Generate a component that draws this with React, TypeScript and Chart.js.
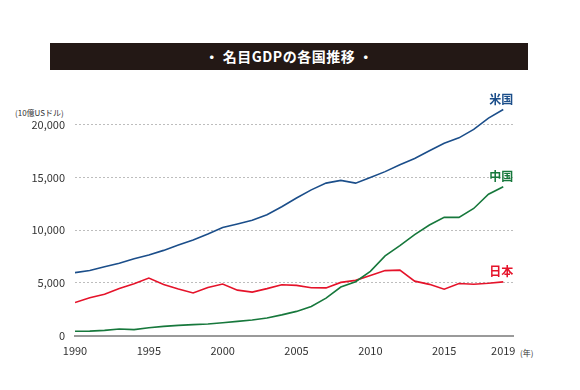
import React, { useEffect, useRef } from "react";
import { Chart, registerables } from "chart.js";

Chart.register(...registerables);

const years = [1990, 1991, 1992, 1993, 1994, 1995, 1996, 1997, 1998, 1999, 2000, 2001, 2002, 2003, 2004, 2005, 2006, 2007, 2008, 2009, 2010, 2011, 2012, 2013, 2014, 2015, 2016, 2017, 2018, 2019];
const usGDP = [5963, 6158, 6520, 6859, 7287, 7640, 8073, 8578, 9063, 9631, 10252, 10582, 10936, 11458, 12214, 13037, 13815, 14452, 14713, 14449, 14992, 15543, 16197, 16785, 17527, 18238, 18745, 19543, 20612, 21433];
const chinaGDP = [400, 415, 490, 620, 560, 735, 864, 962, 1029, 1094, 1211, 1339, 1471, 1660, 1955, 2286, 2752, 3550, 4594, 5102, 6087, 7552, 8532, 9570, 10476, 11200, 11200, 12050, 13400, 14100];
const japanGDP = [3133, 3584, 3909, 4454, 4907, 5449, 4833, 4415, 4033, 4562, 4888, 4304, 4115, 4446, 4815, 4755, 4530, 4515, 5038, 5231, 5700, 6157, 6203, 5156, 4850, 4389, 4927, 4860, 4955, 5082];
const xTicks = [1990, 1995, 2000, 2005, 2010, 2015, 2019];
const yTicks = [0, 5000, 10000, 15000, 20000];
const seriesNames = ["米国", "中国", "日本"];
const seriesColors = ["#1b4e8a", "#17783c", "#e5132a"];

const FONT = "'Noto Sans CJK JP', 'Noto Sans', sans-serif";

const endLabels = {
  id: "endLabels",
  afterDatasetsDraw(chart: any) {
    const ctx = chart.ctx;
    ctx.save();
    ctx.font = `bold 12px ${FONT}`;
    ctx.textAlign = "right";
    ctx.textBaseline = "middle";
    chart.data.datasets.forEach((ds: any, i: number) => {
      const meta = chart.getDatasetMeta(i);
      const pt = meta.data[meta.data.length - 1];
      ctx.fillStyle = ds.borderColor;
      ctx.fillText(ds.label, pt.x + 10, pt.y - 10.5);
    });
    ctx.restore();
  },
};

export default function App() {
  const ref = useRef<HTMLCanvasElement>(null);
  useEffect(() => {
    const series = [usGDP, chinaGDP, japanGDP];
    const chart = new Chart(ref.current!, {
      type: "line",
      data: {
        datasets: series.map((s, i) => ({
          label: seriesNames[i],
          data: s.map((v, j) => ({ x: years[j], y: v })),
          borderColor: seriesColors[i],
          backgroundColor: seriesColors[i],
          borderWidth: 1.6,
          pointRadius: 0,
          tension: 0,
        })),
      },
      options: {
        animation: false,
        responsive: false,
        layout: { padding: { left: 0, right: 67, top: 93, bottom: 0 } },
        plugins: { legend: { display: false }, tooltip: { enabled: false }, title: { display: false } },
        scales: {
          x: {
            type: "linear",
            min: 1990,
            max: 2019.66,
            afterBuildTicks: (scale: any) => {
              scale.ticks = xTicks.map((v) => ({ value: v }));
            },
            afterFit: (scale: any) => {
              scale.height = 54.5;
            },
            grid: { display: false, drawTicks: false },
            border: { display: true, color: "#9a9a9a", width: 2 },
            ticks: {
              color: "#333",
              font: { family: FONT, size: 11 },
              padding: 9,
              maxRotation: 0,
              autoSkip: false,
              callback: (v: any) => String(v),
            },
          },
          y: {
            type: "linear",
            min: 0,
            max: 23000,
            afterBuildTicks: (scale: any) => {
              scale.ticks = yTicks.map((v) => ({ value: v }));
            },
            afterFit: (scale: any) => {
              scale.width = 75;
            },
            grid: {
              drawTicks: false,
              color: (c: any) => (c.tick && c.tick.value === 0 ? "rgba(0,0,0,0)" : "#bdbdbd"),
              lineWidth: 1,
            },
            border: { display: false, dash: [2, 2] },
            ticks: {
              color: "#333",
              font: { family: FONT, size: 11 },
              padding: 10,
              callback: (v: any) => Number(v).toLocaleString("en-US"),
            },
          },
        },
      },
      plugins: [endLabels],
    });
    return () => chart.destroy();
  }, []);

  return (
    <div style={{ position: "absolute", left: 0, top: 0, width: 580, height: 390, background: "#fff", overflow: "hidden" }}>
      <div
        style={{
          position: "absolute",
          left: 50,
          top: 43,
          width: 478,
          height: 27,
          background: "#231815",
          color: "#fff",
          fontFamily: FONT,
          fontWeight: "bold",
          fontSize: 14,
          lineHeight: "27px",
          textAlign: "center",
          letterSpacing: 0.5,
        }}
      >
        ・ 名目GDPの各国推移 ・
      </div>
      <div style={{ position: "absolute", left: 15, top: 107, fontFamily: FONT, fontSize: 8, color: "#333", lineHeight: "12px", whiteSpace: "nowrap" }}>
        (10億USドル)
      </div>
      <div style={{ position: "absolute", left: 520, top: 347, fontFamily: FONT, fontSize: 8, color: "#333", lineHeight: "12px", whiteSpace: "nowrap" }}>
        (年)
      </div>
      <canvas ref={ref} width={580} height={390} style={{ position: "absolute", left: 0, top: 0 }} />
    </div>
  );
}
